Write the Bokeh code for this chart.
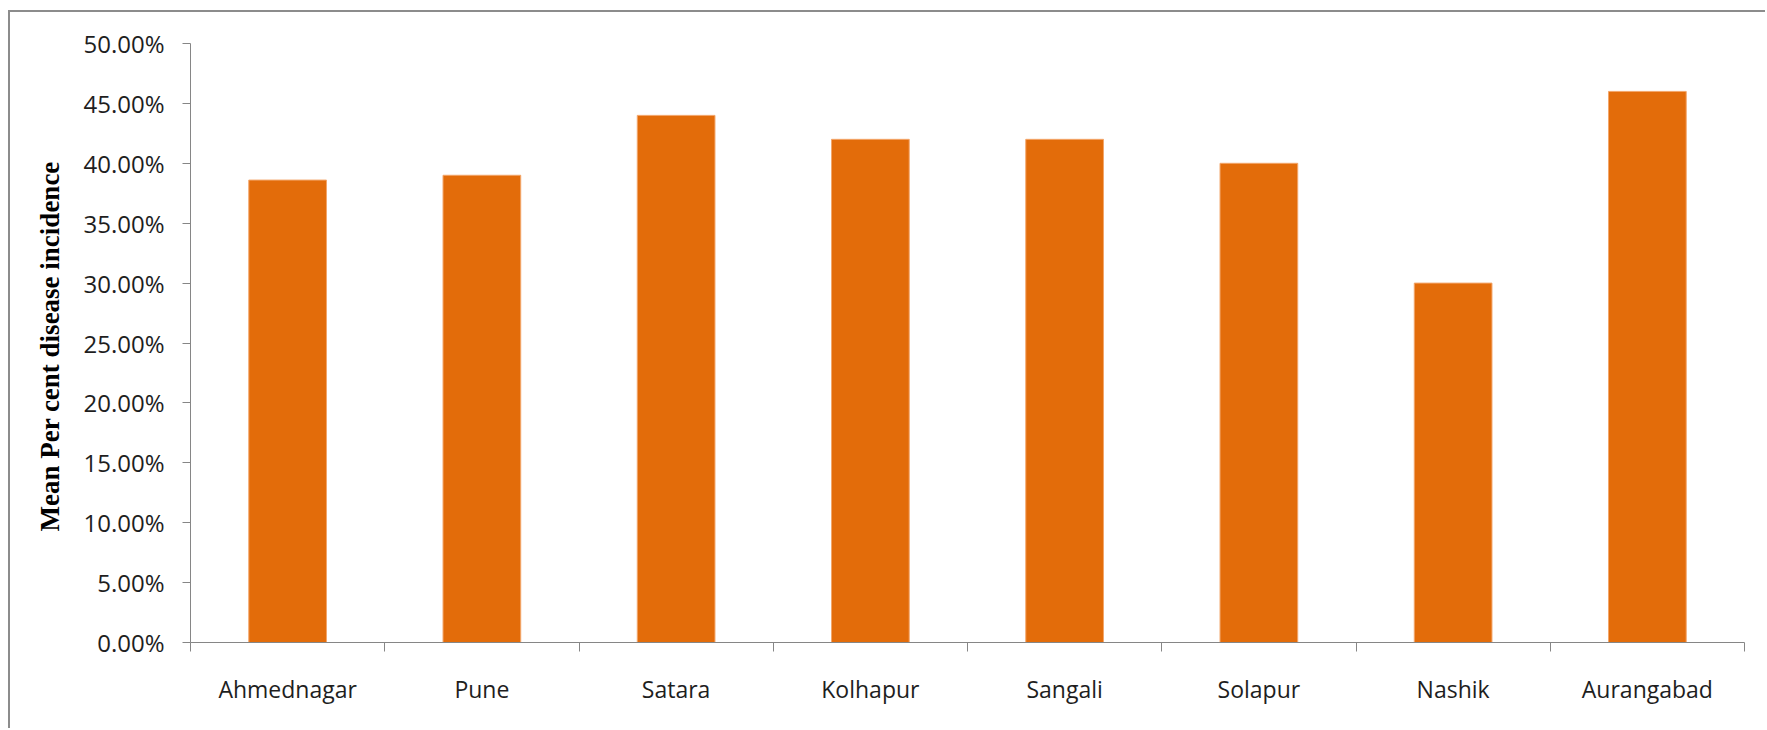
from bokeh.plotting import figure
from bokeh.models import Range1d, FixedTicker, NumeralTickFormatter, ColumnDataSource
from bokeh.embed import file_html
from bokeh.resources import INLINE

# Mean per cent disease incidence by district
districts = ["Ahmednagar", "Pune", "Satara", "Kolhapur",
             "Sangali", "Solapur", "Nashik", "Aurangabad"]
incidence = [0.386, 0.39, 0.44, 0.42, 0.42, 0.40, 0.30, 0.46]
y_ticks = [0.0, 0.05, 0.10, 0.15, 0.20, 0.25, 0.30, 0.35, 0.40, 0.45, 0.50]

n = len(districts)
centers = [i + 0.5 for i in range(n)]
boundaries = list(range(n + 1))

source = ColumnDataSource(data=dict(x=centers, top=incidence, name=districts))

p = figure(width=1757, height=718, output_backend="svg", toolbar_location=None,
           x_range=Range1d(0, n), y_range=Range1d(0, 0.5),
           min_border_left=180, min_border_right=23,
           min_border_top=31, min_border_bottom=88)

# chart-area border (left and top edges of the chart box)
p.styles = {"margin-left": "8px", "margin-top": "10px",
            "border-left": "2px solid #8c8c8c",
            "border-top": "2px solid #8c8c8c"}

p.vbar(x="x", top="top", width=0.4, source=source,
       fill_color="#E36C0A", line_color="#F3A66A", line_width=1)

# styling
p.outline_line_color = None
p.xgrid.grid_line_color = None
p.ygrid.grid_line_color = None
p.background_fill_color = "white"
p.border_fill_color = "white"

tick_font = "Open Sans"
axis_gray = "#868686"

# x axis: labels centred on bars, tick marks on category boundaries
xa = p.xaxis[0]
xa.ticker = FixedTicker(ticks=centers, minor_ticks=boundaries)
xa.major_label_overrides = {c: d for c, d in zip(centers, districts)}
xa.major_tick_out = 0
xa.major_tick_in = 0
xa.minor_tick_out = 9
xa.minor_tick_in = 0
xa.minor_tick_line_color = axis_gray
xa.axis_line_color = axis_gray
xa.major_label_text_font = tick_font
xa.major_label_text_font_size = "23px"
xa.major_label_text_color = "#1e1e1e"
xa.major_label_standoff = 21

# y axis
ya = p.yaxis[0]
ya.ticker = FixedTicker(ticks=y_ticks)
ya.formatter = NumeralTickFormatter(format="0.00%")
ya.major_tick_out = 8
ya.major_tick_in = 0
ya.minor_tick_line_color = None
ya.major_tick_line_color = axis_gray
ya.axis_line_color = axis_gray
ya.major_label_text_font = tick_font
ya.major_label_text_font_size = "24px"
ya.major_label_text_color = "#1e1e1e"
ya.major_label_standoff = 18
ya.axis_label = "Mean Per  cent disease incidence"
ya.axis_label_text_font = "Liberation Serif"
ya.axis_label_text_font_style = "bold"
ya.axis_label_text_font_size = "27px"
ya.axis_label_text_color = "black"
ya.axis_label_standoff = 15

open("out.html", "w").write(file_html(p, INLINE))
